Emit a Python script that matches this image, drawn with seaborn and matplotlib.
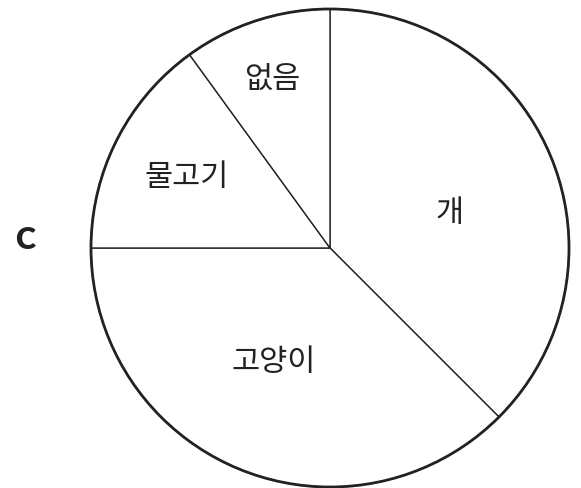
import matplotlib
matplotlib.use("Agg")
import matplotlib.pyplot as plt
import seaborn as sns
from matplotlib.patches import Circle

categories = ["개", "고양이", "물고기", "없음"]
values = [37.5, 37.5, 15, 10]
panel_label = "C"

sns.set_theme(style="white")
plt.rcParams['font.family'] = ['Noto Sans CJK KR', 'DejaVu Sans']

fig = plt.figure(figsize=(5.81, 4.89), dpi=100)
ax = fig.add_axes([91/581, 1/489, 478/581, 478/489])

wedges, texts = ax.pie(values, labels=categories, startangle=90, counterclock=False,
                       colors=["white"] * len(values),
                       wedgeprops=dict(edgecolor="#222222", linewidth=1.0),
                       labeldistance=0.55,
                       textprops=dict(fontsize=22, color="#222222", fontweight="light"))
label_pos = [(0.50, 0.15), (-0.235, -0.475), (-0.60, 0.30), (-0.24, 0.71)]
for t, (x, y) in zip(texts, label_pos):
    t.set_position((x, y))
    t.set_ha("center")
    t.set_va("center")

ax.add_patch(Circle((0, 0), 1.0, fill=False, edgecolor="#222222", linewidth=2.0, clip_on=False))
ax.set_xlim(-1, 1)
ax.set_ylim(-1, 1)
ax.set_aspect("equal")
ax.axis("off")

fig.text(25/581, 1 - 240/489, panel_label, fontsize=22, fontweight="heavy",
         family=["Lato", "DejaVu Sans"], color="#222222", ha="center", va="center")

fig.savefig("out.png", dpi=100, facecolor="white")
